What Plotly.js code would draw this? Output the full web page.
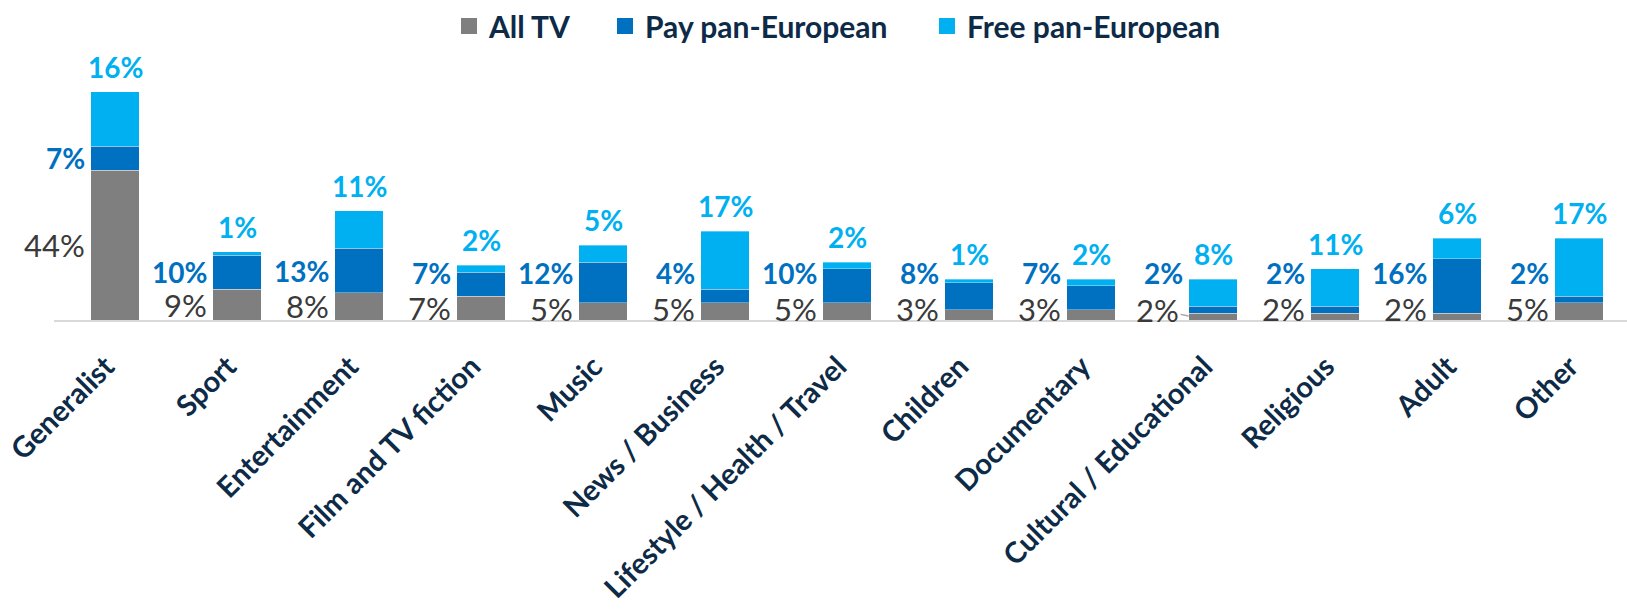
<!DOCTYPE html>
<html>
<head>
<meta charset="utf-8">
<script src="https://cdn.plot.ly/plotly-3.0.1.min.js"></script>
<style>
  html, body { margin: 0; padding: 0; background: #ffffff; }
  #chart { width: 1627px; height: 616px; }
</style>
</head>
<body>
<div id="chart"></div>
<script>
// ---- Data ----
const categories = [
  "Generalist", "Sport", "Entertainment", "Film and TV fiction", "Music",
  "News / Business", "Lifestyle / Health / Travel", "Children", "Documentary",
  "Cultural / Educational", "Religious", "Adult", "Other"
];
const allTV   = [44, 9, 8, 7, 5, 5, 5, 3, 3, 2, 2, 2, 5];
const payPan  = [7, 10, 13, 7, 12, 4, 10, 8, 7, 2, 2, 16, 2];
const freePan = [16, 1, 11, 2, 5, 17, 2, 1, 2, 8, 11, 6, 17];
const seriesNames = ["All TV", "Pay pan-European", "Free pan-European"];

// ---- Styles ----
const colAll = "#7f7f7f", colPay = "#0070c0", colFree = "#00b0f0";
const navy = "#0d2a47";
const FONT = "Lato, 'Open Sans', sans-serif";
const BARW = 0.4;

const xs = categories.map((c, i) => i);

function barTrace(vals, name, color) {
  return {
    type: "bar", x: xs, y: vals, name: name, width: BARW,
    marker: { color: color, line: { width: 1, color: "rgba(255,255,255,0.35)" } },
    showlegend: false, hoverinfo: "skip"
  };
}
function legendTrace(name, color, lg) {
  return {
    type: "scatter", mode: "markers", x: [null], y: [null], name: name,
    marker: { symbol: "square", size: 16, color: color },
    legend: lg, showlegend: true, hoverinfo: "skip"
  };
}

const traces = [
  barTrace(allTV, seriesNames[0], colAll),
  barTrace(payPan, seriesNames[1], colPay),
  barTrace(freePan, seriesNames[2], colFree),
  legendTrace(seriesNames[0], colAll, "legend"),
  legendTrace(seriesNames[1], colPay, "legend2"),
  legendTrace(seriesNames[2], colFree, "legend3")
];

// ---- Data labels ----
const annotations = [];
categories.forEach((c, i) => {
  const g = allTV[i], p = payPan[i], f = freePan[i];
  // Free: above the stack
  annotations.push({
    x: i, y: g + p + f, xref: "x", yref: "y", text: f + "%", showarrow: false,
    xanchor: "center", yanchor: "bottom", yshift: 6,
    font: { family: FONT, size: 28, color: colFree, weight: 700 }
  });
  // Pay: left of the bar
  annotations.push({
    x: i - BARW / 2, y: Math.max(g + p / 2, 13.9), xref: "x", yref: "y",
    text: p + "%", showarrow: false, xanchor: "right", yanchor: "middle", xshift: -4,
    font: { family: FONT, size: 28, color: colPay, weight: 700 }
  });
  // All TV: left of the bar, near base
  const gy = Math.max(g / 2, 3.2);
  const lead = (c === "Cultural / Educational");
  if (lead) {
    annotations.push({
      x: i - BARW / 2, y: g * 0.6, xref: "x", yref: "y", text: g + "%",
      showarrow: true, arrowhead: 0, arrowwidth: 1.5, arrowcolor: "#a6a6a6",
      ax: -31, ay: -6, standoff: 0,
      font: { family: FONT, size: 31, color: "#3a3a3a", weight: 400 }
    });
  } else {
    annotations.push({
      x: i - BARW / 2, y: gy, xref: "x", yref: "y", text: g + "%", showarrow: false,
      xanchor: "right", yanchor: "middle", xshift: -4,
      font: { family: FONT, size: 31, color: "#3a3a3a", weight: 400 }
    });
  }
});

const legendBase = {
  orientation: "h", xref: "container", yref: "container",
  xanchor: "left", yanchor: "middle", y: 1 - 26 / 616,
  bgcolor: "rgba(0,0,0,0)", borderwidth: 0,
  font: { family: FONT, size: 30, color: navy, weight: 700 },
  itemwidth: 30
};

const layout = {
  width: 1627, height: 616,
  margin: { l: 54, r: 0, t: 50, b: 296 },
  paper_bgcolor: "#ffffff", plot_bgcolor: "#ffffff",
  barmode: "stack",
  xaxis: {
    type: "linear", range: [-0.5, -0.5 + 1573 / 122],
    tickmode: "array", tickvals: xs, ticktext: categories,
    tickangle: -45, ticks: "", showgrid: false, zeroline: false,
    showline: true, linecolor: "#d9d9d9", linewidth: 2,
    ticklabelstandoff: 16, ticklabelshift: -9,
    tickfont: { family: FONT, size: 29, color: navy, weight: 700 },
    fixedrange: true
  },
  yaxis: {
    range: [0, 270 / 3.433], visible: false, showgrid: false, zeroline: false,
    fixedrange: true
  },
  legend: Object.assign({}, legendBase, { x: (461 - 12) / 1627 }),
  legend2: Object.assign({}, legendBase, { x: (617 - 12) / 1627 }),
  legend3: Object.assign({}, legendBase, { x: (939 - 12) / 1627 }),
  annotations: annotations,
  showlegend: true
};

Plotly.newPlot("chart", traces, layout, { displayModeBar: false, staticPlot: true });
</script>
</body>
</html>
